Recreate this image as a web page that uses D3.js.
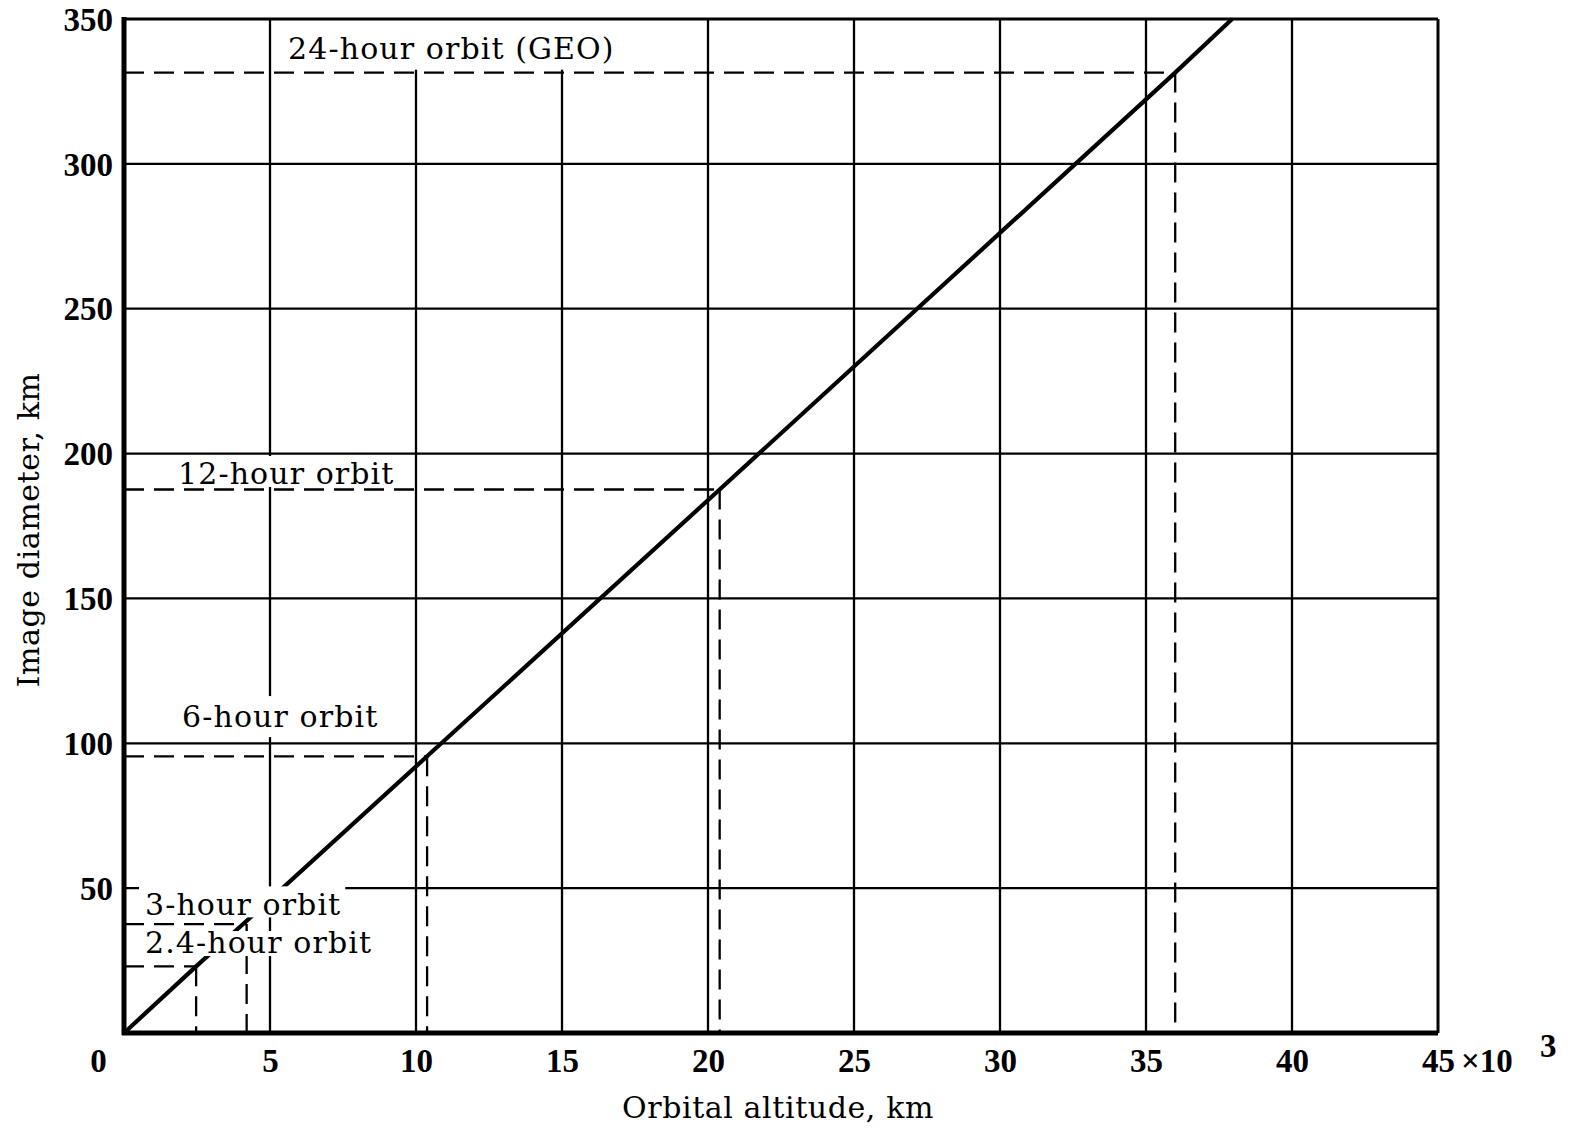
<!DOCTYPE html>
<html>
<head>
<meta charset="utf-8">
<script src="https://cdn.jsdelivr.net/npm/d3@7"></script>
<style>
  html, body { margin: 0; padding: 0; background: #fff; }
  svg { display: block; }
</style>
</head>
<body>
<svg id="chart" width="1574" height="1133"></svg>
<script>
// ---------------- DATA ----------------
const xTicks = [0, 5, 10, 15, 20, 25, 30, 35, 40, 45];          // orbital altitude, x10^3 km
const yTicks = [50, 100, 150, 200, 250, 300, 350];               // image diameter, km
const xGrid = [5, 10, 15, 20, 25, 30, 35, 40];
const yGrid = [50, 100, 150, 200, 250, 300];

// main curve (altitude x10^3 km, image diameter km)
const curveAltitude = [0, 2.47, 4.1, 10.38, 20.4, 36.0, 37.95];
const curveDiameter = [0, 23, 37.8, 95.5, 187.6, 331.5, 350];

// orbits marked with dashed guide lines
const orbitNames    = ["2.4-hour orbit", "3-hour orbit", "6-hour orbit", "12-hour orbit", "24-hour orbit (GEO)"];
const orbitAltitude = [2.47, 4.2, 10.38, 20.4, 36.0];
const orbitDiameter = [23, 37.6, 95.5, 187.6, 331.5];

// ---------------- LAYOUT ----------------
const plot = { left: 124, right: 1438, top: 19, bottom: 1033 };
const svg = d3.select("#chart");
const x = d3.scaleLinear().domain([0, 45]).range([plot.left, plot.right]);
const y = d3.scaleLinear().domain([0, 350]).range([plot.bottom, plot.top]);

const serif = "'DejaVu Serif', serif";
const tickFont = "'Liberation Serif', serif";

// grid
svg.append("g").selectAll("line").data(xGrid).join("line")
  .attr("x1", d => x(d)).attr("x2", d => x(d))
  .attr("y1", plot.top).attr("y2", plot.bottom)
  .attr("stroke", "#000").attr("stroke-width", 2.3);
svg.append("g").selectAll("line").data(yGrid).join("line")
  .attr("y1", d => y(d)).attr("y2", d => y(d))
  .attr("x1", plot.left).attr("x2", plot.right)
  .attr("stroke", "#000").attr("stroke-width", 2.3);

// dashed guide lines
const orbits = orbitNames.map((n, i) => ({ name: n, a: orbitAltitude[i], d: orbitDiameter[i] }));
const gd = svg.append("g").attr("stroke", "#000").attr("stroke-width", 2.3)
  .attr("stroke-dasharray", "20,10").attr("fill", "none");
orbits.forEach(o => {
  gd.append("line")
    .attr("x1", plot.left).attr("x2", x(o.a))
    .attr("y1", y(o.d)).attr("y2", y(o.d));
  gd.append("line")
    .attr("x1", x(o.a)).attr("x2", x(o.a))
    .attr("y1", y(o.d)).attr("y2", plot.bottom);
});

// main line
const pts = curveAltitude.map((a, i) => [a, curveDiameter[i]]);
svg.append("path")
  .datum(pts)
  .attr("d", d3.line().x(d => x(d[0])).y(d => y(d[1])))
  .attr("fill", "none").attr("stroke", "#000").attr("stroke-width", 4.2);

// orbit labels with white backing (hide grid beneath text)
const labelPos = {
  "24-hour orbit (GEO)": [5.62, 336.3, 24, 11],
  "12-hour orbit": [1.85, 189.5, 5, 3],
  "6-hour orbit": [1.99, 105.6, 8, 10],
  "3-hour orbit": [0.72, 40.6, 6, 2],
  "2.4-hour orbit": [0.72, 27.6, -1, 3]
};
orbits.forEach(o => {
  const [lx, ly, padTop, padBot] = labelPos[o.name];
  const g = svg.append("g");
  const r = g.append("rect").attr("fill", "#fff");
  const t = g.append("text")
    .attr("x", x(lx)).attr("y", y(ly))
    .attr("font-family", serif).attr("font-size", 30)
    .attr("letter-spacing", 1.1)
    .text(o.name);
  const bb = t.node().getBBox();
  const top = y(ly) - 23 - padTop;
  r.attr("x", bb.x - 6).attr("width", bb.width + 10)
   .attr("y", top).attr("height", (y(ly) + padBot) - top);
});

// frame
svg.append("line").attr("x1", plot.left).attr("x2", plot.right).attr("y1", plot.top).attr("y2", plot.top)
  .attr("stroke", "#000").attr("stroke-width", 3);
svg.append("line").attr("x1", plot.right).attr("x2", plot.right).attr("y1", plot.top).attr("y2", plot.bottom)
  .attr("stroke", "#000").attr("stroke-width", 3);
svg.append("line").attr("x1", plot.left).attr("x2", plot.left).attr("y1", plot.top - 2).attr("y2", plot.bottom + 2)
  .attr("stroke", "#000").attr("stroke-width", 5);
svg.append("line").attr("x1", plot.left - 2).attr("x2", plot.right).attr("y1", plot.bottom).attr("y2", plot.bottom)
  .attr("stroke", "#000").attr("stroke-width", 5);

// x axis tick labels
const xAxis = d3.axisBottom(x).tickValues(xTicks).tickSize(0).tickPadding(0)
  .tickFormat(d => d);
const gx = svg.append("g").attr("transform", `translate(0,${plot.bottom})`).call(xAxis);
gx.select(".domain").remove();
gx.selectAll("text")
  .attr("font-family", tickFont).attr("font-size", 33).attr("font-weight", "bold")
  .attr("fill", "#000").attr("dy", 0).attr("y", 39)
  .attr("dx", d => d === 0 ? -26 : 0);
// ×10^3 multiplier after 45
svg.append("text").attr("x", x(45) + 23).attr("y", plot.bottom + 39)
  .attr("font-family", tickFont).attr("font-size", 33).attr("font-weight", "bold")
  .text("×10");
svg.append("text").attr("x", x(45) + 102).attr("y", plot.bottom + 24)
  .attr("font-family", tickFont).attr("font-size", 33).attr("font-weight", "bold")
  .text("3");

// y axis tick labels
const yAxis = d3.axisLeft(y).tickValues(yTicks).tickSize(0).tickPadding(11).tickFormat(d => d);
const gy = svg.append("g").attr("transform", `translate(${plot.left},0)`).call(yAxis);
gy.select(".domain").remove();
gy.selectAll("text")
  .attr("font-family", tickFont).attr("font-size", 33).attr("font-weight", "bold")
  .attr("fill", "#000").attr("dy", "0.34em");

// axis titles
svg.append("text").attr("x", 778).attr("y", 1118).attr("text-anchor", "middle")
  .attr("font-family", serif).attr("font-size", 30).attr("letter-spacing", 0.6)
  .text("Orbital altitude, km");
svg.append("text").attr("transform", `translate(39,530) rotate(-90)`).attr("text-anchor", "middle")
  .attr("font-family", serif).attr("font-size", 30).attr("letter-spacing", 0.6)
  .text("Image diameter, km");
</script>
</body>
</html>
